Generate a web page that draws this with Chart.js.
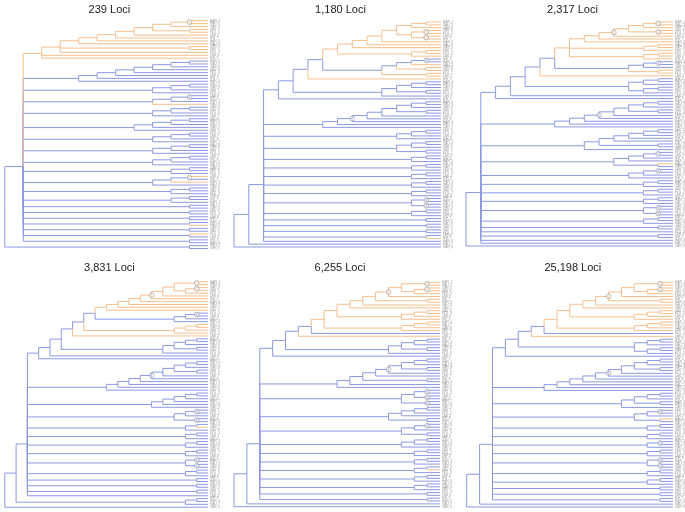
<!DOCTYPE html>
<html>
<head>
<meta charset="utf-8">
<script src="https://cdn.jsdelivr.net/npm/chart.js@4"></script>
<style>
body{margin:0;background:#fff}
#wrap{position:relative;width:685px;height:512px;background:#fff}
canvas{position:absolute}
</style>
</head>
<body>
<div id="wrap"></div>
<script>
// panel titles
const titles=["239 Loci","1,180 Loci","2,317 Loci","3,831 Loci","6,255 Loci","25,198 Loci"]

// tree topologies, one string per piece: ( ) = clade, b = blue tip, o = orange tip, * = circled node
const tree1=[
  "((",
  "(((((((((oo)*o)(oo))o)o)o)o)(oo)o)oo)",
  "(((((((bb)b)b)b)b)b)b)",
  "(((bb)b)b)","(((bb)*b)o)","(((bb)b)b)",
  "((((bb)b)b)b)",
  "(((bb)b)b)","(((bb)b)b)","(((bb)b)b)",
  "((bb)b)","(((ob)*o)b)","((bb)b)","((bb)b)",
  "(bb)(bb)(bb)(bo)(bb)(ob)(bb)",
  ")(bb))"
]
const tree2=[
  "(((",
  "((((","(((((((oo)o)((oo)*(oo)*))o)o)o)((oo)o))","((((bb)*o)(oo))(oo))",")o)","((((bb)b)(bb))b)",")b)",
  "((((((((bb)b)(bb))b)b)b)*b)b)",
  "(((bb)b)b)","(((bb)b)(bb))",
  "((bb)b)","((bb)b)","((bb)b)","((bb)b)","((bb)b)",
  "((bb)*(bb)*)","((bb)b)",
  "(bb)(bb)(bb)(bo)","b",
  ")b)b)"
]
const tree3=[
  "((",
  "((((((","((((((oo)*o)(oo)*)o)*o)o)","((oo)o)((oo)o))","(((bb)*b)(oo))",")o)","(((bb)b)((bb)b))",")b)b)",
  "((((((((bb)b)(bb))b)b)*b)b)b)",
  "((((((bb)b)b)b)(bb))b)",
  "((((bb)*b)b)(ob))",
  "(((bb)*b)b)",
  "((bb)b)","((bb)b)","((bb)b)",
  "((bb)*(bb)*)","((bb)b)",
  "(bb)b(bb)bb",
  ")b)"
]
const tree4=[
  "(((",
  "((((((","((((((((oo)*((oo)*o))o)o)*o)o)o)o)","(((bb)*b)b))","(((oo)o)o))","o)","((((bb)b)(bb))b))","b)b)",
  "(((((((((bb)b)(bb))b)b)*b)b)b)b)",
  "(((((bb)b)b)b)b)",
  "(((bb)*b)(bb)*)",
  "((bo)b)","((bb)b)","((bb)b)","((bb)b)",
  "((bb)*(bb)*)","((bb)b)",
  "(bb)(bb)(bb)b",
  ")((bb)b))b)"
]
const tree5=[
  "(((",
  "(((((((","(((((oo)*((oo)*o))o)*(oo))o)","o)","(((oo)o)o))","(((oo)o)o))","b)","o)","((((bb)b)(bb))b))","b)",
  "((((((((bb)b)(bb))b)*b)(bb))b)b)",
  "(((bb)*(bb)*)(bb)*)",
  "((((bb)b)b)(bb))",
  "(((bb)*b)(bb))",
  "(((bb)b)b)",
  "((bb)b)","((bb)b)","((bo)b)","((bb)b)","((bb)b)",
  "(bb)(bb)",
  ")b)b)"
]
const tree6=[
  "(((",
  "(((((((","(((((oo)*((oo)*o))o)(oo))*o)","o)","(((oo)o)o))","(((oo)o)o))","b)","o)","(((bb)b)((bb)b)))","b)",
  "((((((((((bb)b)(bb))b)b)*b)b)b)b)b)",
  "((((bb)b)(bb))b)",
  "(((bb)*b)(ob))",
  "((bb)b)","((bb)b)","((bb)*b)","((bb)b)",
  "((bb)*(bb)*)","((bb)b)","((bb)b)",
  "(bb)(bb)(bb)",
  ")b)b)"
]
const tipCodes=["HAW","MAU","OAH","KAU","MOL","LAN","NIH"]

const blue="#8b99e3"
const orange="#f6bf8d"

// where each panel sits and where its tree area goes (page pixels)
const panels=[
  {tree:tree1,left:0,  top:0,  w:228,h:255,area:[2.7,20.7,208,248.5],titleY:9.5},
  {tree:tree2,left:228,top:0,  w:228,h:255,area:[234,22,441,247],titleY:9.5},
  {tree:tree3,left:456,top:0,  w:229,h:255,area:[466,22,673,246],titleY:9.5},
  {tree:tree4,left:0,  top:255,w:228,h:257,area:[2.7,281.7,208,508.3],titleY:267.5},
  {tree:tree5,left:228,top:255,w:228,h:257,area:[234,282.3,440,506.7],titleY:267.5},
  {tree:tree6,left:456,top:255,w:229,h:257,area:[466.7,282.3,673,507],titleY:267.5}
]

parseTree=(str)=>{
  var s=str.replace(/\s/g,''), i=0
  function node(){
    if(s[i]=='('){
      i++
      var n={children:[]}
      while(i<s.length && s[i]!=')') n.children.push(node())
      i++
      if(s[i]=='*'){n.mark=true;i++}
      return n
    }
    var c=s[i++]
    return {leaf:true,orange:c=='o'}
  }
  return node()
}

// tips in order, inner nodes at the mean height of their children
layoutTree=(root)=>{
  var leaves=[]
  function walk(n){
    if(n.leaf){n.y=leaves.length;n.h=0;leaves.push(n);return}
    n.children.forEach(walk)
    n.h=1+Math.max(...n.children.map(c=>c.h))
    n.y=n.children.reduce((a,c)=>a+c.y,0)/n.children.length
    n.orange=n.children.every(c=>c.orange)
  }
  walk(root)
  return leaves
}

branches=(root)=>{
  var H=root.h, b=[], o=[], marks=[]
  function go(n){
    n.x=H-n.h
    if(n.mark) marks.push({x:n.x,y:n.y})
    ;(n.children||[]).forEach(c=>{
      c.x=H-c.h
      var arr=c.orange?o:b
      arr.push({x:n.x,y:n.y},{x:n.x,y:c.y},{x:c.x,y:c.y},{x:n.x,y:null})
      go(c)
    })
  }
  go(root)
  return {b:b,o:o,marks:marks}
}

drawPanel=(p,k)=>{
  var root=parseTree(p.tree.join(''))
  var leaves=layoutTree(root)
  var segs=branches(root)
  var H=root.h
  var ele=document.createElement('canvas')
  ele.width=p.w; ele.height=p.h
  ele.style.left=p.left+'px'; ele.style.top=p.top+'px'
  document.getElementById('wrap').append(ele)
  var pad={
    left:p.area[0]-p.left,
    top:p.area[1]-p.top,
    right:p.left+p.w-p.area[2],
    bottom:p.top+p.h-p.area[3]
  }
  var textPlugin={
    id:'texts'+k,
    afterDraw(chart){
      var ctx=chart.ctx, xs=chart.scales.x, ys=chart.scales.y, ca=chart.chartArea
      ctx.save()
      ctx.font='3px "Liberation Sans", Arial'
      ctx.fillStyle='#9a9a9a'
      ctx.textBaseline='middle'
      ctx.textAlign='left'
      leaves.forEach((lf,j)=>{
        ctx.fillText(tipCodes[j%tipCodes.length]+'_'+(j%9+1),xs.getPixelForValue(H)+2,ys.getPixelForValue(lf.y))
      })
      ctx.font='11px "Liberation Sans", Arial'
      ctx.fillStyle='#222'
      ctx.textAlign='center'
      ctx.fillText(titles[k],(ca.left+ca.right)/2+3,p.titleY-p.top)
      ctx.restore()
    }
  }
  new Chart(ele.getContext('2d'),{
    type:'scatter',
    data:{datasets:[
      {data:segs.marks,showLine:false,pointRadius:2.4,pointStyle:'circle',borderColor:'#a8a8a8',
       backgroundColor:'rgba(255,255,255,0.4)',borderWidth:0.8,order:0,clip:false},
      {data:segs.o,showLine:true,stepped:true,spanGaps:false,borderColor:orange,borderWidth:1,pointRadius:0,order:1,clip:false},
      {data:segs.b,showLine:true,stepped:true,spanGaps:false,borderColor:blue,borderWidth:1,pointRadius:0,order:2,clip:false}
    ]},
    options:{
      responsive:false,
      animation:false,
      devicePixelRatio:1,
      events:[],
      layout:{padding:pad},
      scales:{
        x:{type:'linear',min:0,max:H,display:false},
        y:{type:'linear',min:0,max:leaves.length-1,reverse:true,display:false}
      },
      plugins:{legend:{display:false},tooltip:{enabled:false},title:{display:false}}
    },
    plugins:[textPlugin]
  })
}

panels.forEach(drawPanel)
</script>
</body>
</html>
